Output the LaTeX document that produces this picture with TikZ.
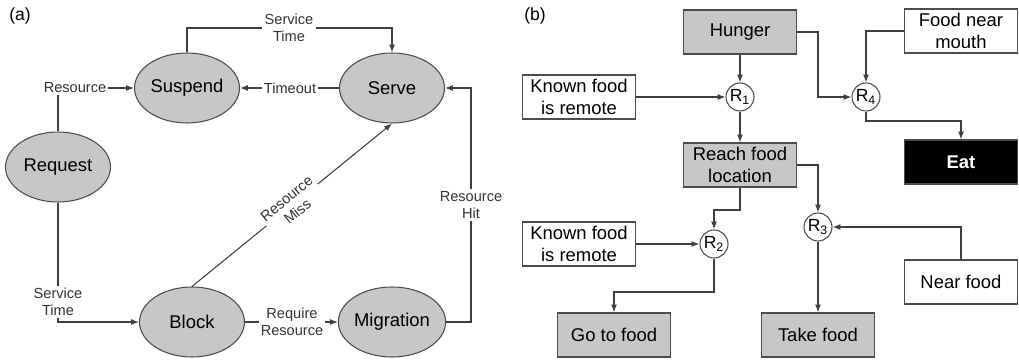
\documentclass[tikz,border=0pt]{standalone}
\usepackage{fontspec}
\setmainfont{Liberation Sans}
\usetikzlibrary{shapes.geometric,arrows.meta}
\begin{document}
\begin{tikzpicture}[x=0.02cm,y=-0.02cm,>={Latex[length=4.5pt,width=3.4pt]},line width=0.6pt]
  \tikzstyle{state} = [draw=black!70, fill=black!22, ellipse, minimum width=2.1cm, minimum height=1.4cm, inner sep=0pt, font=\fontsize{10.5}{12.5}\selectfont]
  \tikzstyle{lbl} = [fill=white, inner sep=1pt, align=center, text=black!80, font=\fontsize{8.3}{9.7}\selectfont]
  \tikzstyle{format} = [draw=black!70, minimum width=2.26cm, minimum height=0.88cm, inner sep=1pt, align=center, font=\fontsize{10.5}{12.5}\selectfont]
  \tikzstyle{act} = [format, fill=black!22]
  \tikzstyle{rule} = [draw=black!70, fill=white, circle, minimum size=0.56cm, inner sep=0pt, font=\fontsize{10}{12}\selectfont]
  \tikzstyle{wire} = [draw=black!75]
  \useasboundingbox[fill=white] (0,0) rectangle (1019,361);

  % (a)
  \draw (20,16) node[font=\fontsize{10}{12}\selectfont] (pa) {(a)};
  \draw (187,88) node[state] (sus) {Suspend};
  \draw (392,88) node[state] (srv) {Serve};
  \draw (58,167) node[state] (req) {Request};
  \draw (192,322) node[state] (blk) {Block};
  \draw (392,322) node[state] (mig) {Migration};

  \draw (289,28) node[lbl] (stt) {Service\\Time};
  \draw (75,88) node[lbl] (res) {Resource};
  \draw (290,88) node[lbl] (tmo) {Timeout};
  \draw (58,302) node[lbl] (stb) {Service\\Time};
  \draw (292,322) node[lbl] (rqr) {Require\\Resource};
  \draw (471,205) node[lbl] (rht) {Resource\\Hit};

  \draw [wire,->] (sus) |- (stt) -| (srv);
  \draw [wire] (req) -- (req |- res.south);
  \draw [wire,->] (res) -- (sus);
  \draw [wire,->] (srv) -- (tmo) -- (sus);
  \draw [wire] (req) -- (stb);
  \draw [wire,->] (stb.south) |- (blk);
  \draw [wire,->] (blk.north) -- (srv.south) node[lbl, midway, rotate=39.5] {Resource\\Miss};
  \draw [wire,->] (blk) -- (rqr) -- (mig);
  \draw [wire] (mig) -| (rht);
  \draw [wire,->] (rht) |- (srv);

  % (b)
  \draw (535,16) node[font=\fontsize{10}{12}\selectfont] (pb) {(b)};
  \draw (740,32) node[act] (hun) {Hunger};
  \draw (961,31) node[format] (fnm) {Food near\\mouth};
  \draw (579,97) node[format] (kf1) {Known food\\is remote};
  \draw (740,97) node[rule] (r1) {R\textsubscript{1}};
  \draw (866,97) node[rule] (r4) {R\textsubscript{4}};
  \draw (740,165) node[act] (rfl) {Reach food\\location};
  \draw (961,162) node[format, fill=black, text=white, font=\fontsize{10.5}{12.5}\selectfont\bfseries] (eat) {Eat};
  \draw (579,244) node[format] (kf2) {Known food\\is remote};
  \draw (714,244) node[rule] (r2) {R\textsubscript{2}};
  \draw (818,227) node[rule] (r3) {R\textsubscript{3}};
  \draw (961,282) node[format] (nf) {Near food};
  \draw (614,335) node[act] (gtf) {Go to food};
  \draw (818,335) node[act] (tkf) {Take food};

  \coordinate (c1) at (818,97);
  \coordinate (c2) at (866,121);
  \coordinate (c3) at (740,210);
  \coordinate (c4) at (714,292);

  \draw [wire,->] (hun) -- (r1);
  \draw [wire,->] (kf1) -- (r1);
  \draw [wire,->] (r1) -- (rfl);
  \draw [wire,->] (hun) -| (c1) -- (r4);
  \draw [wire,->] (fnm) -| (r4);
  \draw [wire,->] (r4) -- (c2) -| (eat);
  \draw [wire,->] (rfl) -| (r3);
  \draw [wire,->] (rfl) -- (c3) -| (r2);
  \draw [wire,->] (kf2) -- (r2);
  \draw [wire,->] (r2) -- (c4) -| (gtf);
  \draw [wire,->] (r3) -- (tkf);
  \draw [wire,->] (nf) |- (r3);
\end{tikzpicture}
\end{document}
